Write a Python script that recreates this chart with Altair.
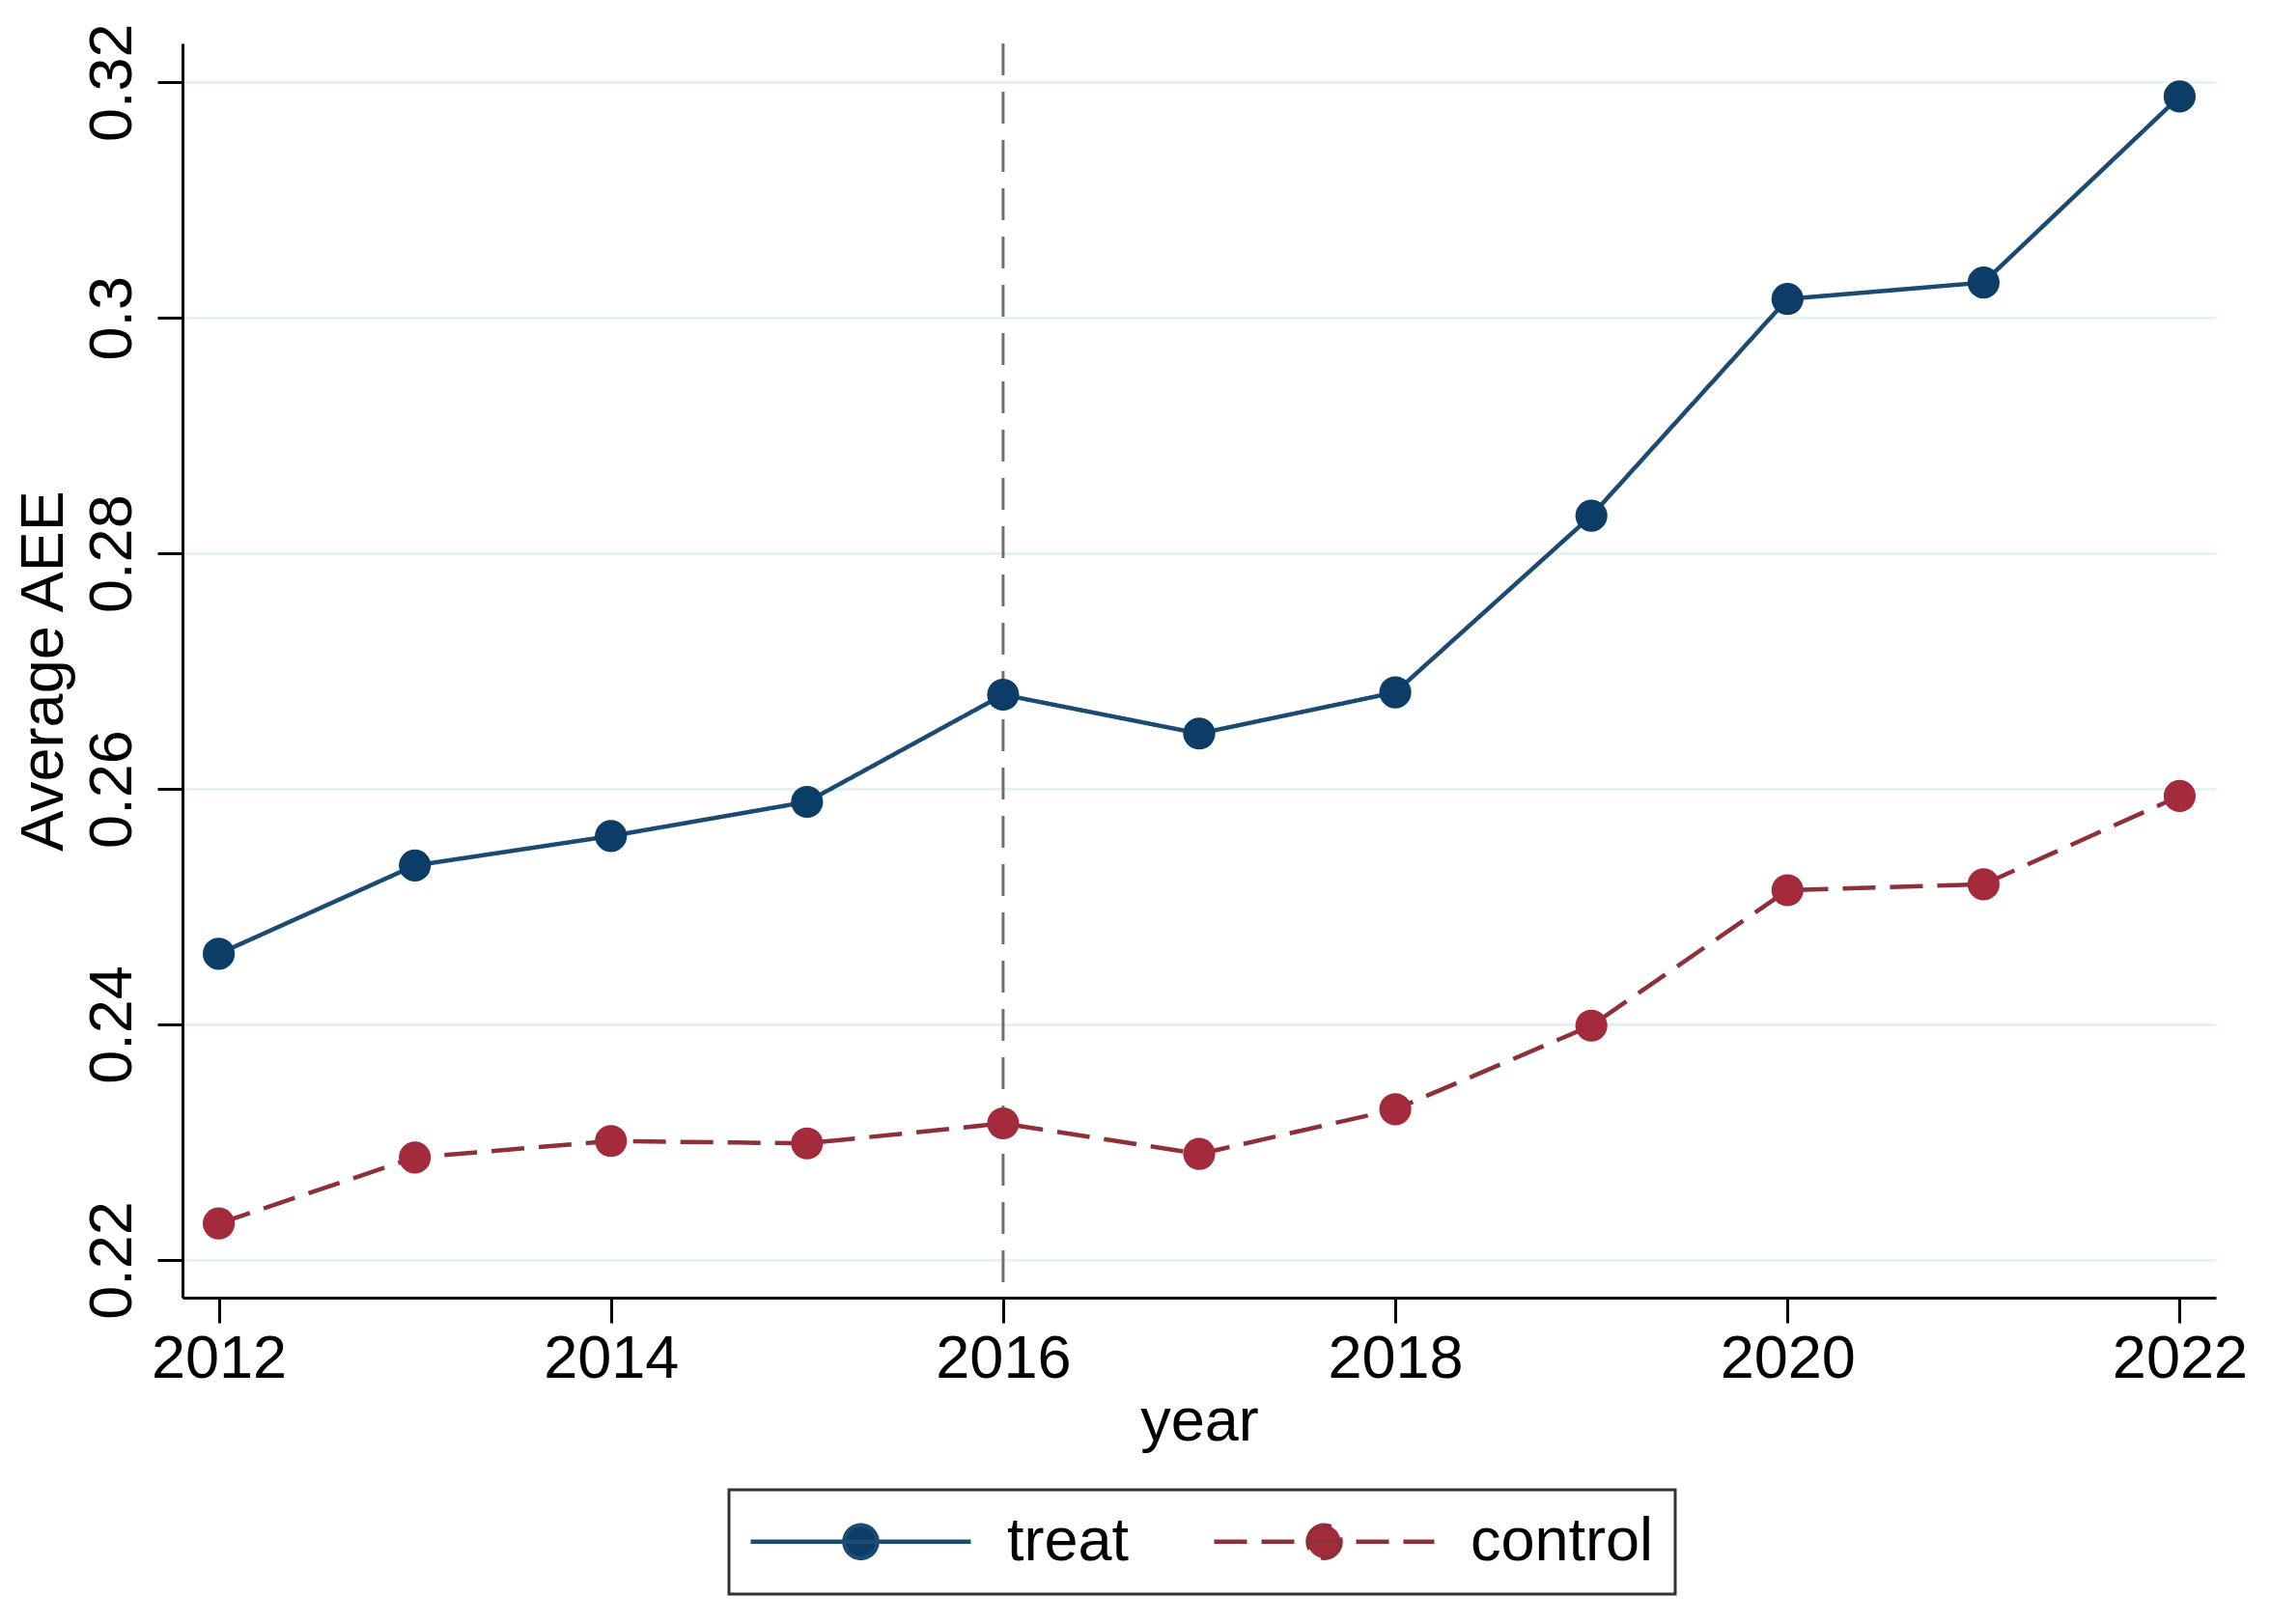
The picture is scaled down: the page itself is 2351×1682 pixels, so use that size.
import altair as alt
import pandas as pd

years = [2012, 2013, 2014, 2015, 2016, 2017, 2018, 2019, 2020, 2021, 2022]
treat = [0.2460, 0.2535, 0.2560, 0.2589, 0.2680, 0.2647, 0.2682, 0.2832, 0.3016, 0.3030, 0.3188]
control = [0.2231, 0.2287, 0.2301, 0.2299, 0.2316, 0.2290, 0.2328, 0.2399, 0.2514, 0.2519, 0.2594]
groups = ["treat", "control"]
event_year = [2016]
y_ticks = [0.22, 0.24, 0.26, 0.28, 0.30, 0.32]
x_ticks = [2012, 2014, 2016, 2018, 2020, 2022]

line_colors = ["#1b4a72", "#8f2f38"]
marker_colors = ["#0b3d66", "#a32b3b"]
dashes = [[1, 0], [34, 15]]

rows = []
for g, vals in zip(groups, [treat, control]):
    for yr, v in zip(years, vals):
        rows.append({"year": yr, "value": v, "group": g})
df = pd.DataFrame(rows)
ev = pd.DataFrame({"year": event_year})

FONT = "Liberation Sans"

xscale = alt.Scale(domain=[2011.815, 2022.185], nice=False, zero=False)
yscale = alt.Scale(domain=[0.2168, 0.3233], nice=False, zero=False)

xaxis = alt.Axis(values=x_ticks, format="d", title="year", grid=False,
                 labelFlush=False, labelOverlap=False, labelPadding=6,
                 titlePadding=2)
yaxis = alt.Axis(values=y_ticks, format="~g", title="Average AEE", grid=True,
                 gridColor="#e8f1f2", gridWidth=3, labelAngle=270,
                 labelAlign="center", labelBaseline="bottom", labelPadding=15,
                 titlePadding=8)

legend = alt.Legend(
    title=None, orient="none", legendX=566, legendY=1498, direction="horizontal",
    symbolType="M-5.7,0L5.7,0M-0.85,0A0.85,0.85,0,1,1,0.85,0A0.85,0.85,0,1,1,-0.85,0Z",
    symbolSize=1600, symbolStrokeWidth=4.5, symbolOffset=83, labelOffset=120,
    columnPadding=78, padding=22, strokeColor="#333333", labelLimit=0,
    labelFont=FONT, labelFontSize=63, labelColor="black", labelBaseline="middle",
    symbolOpacity=1,
)

lines = alt.Chart(df).mark_line(strokeWidth=4.5, opacity=1).encode(
    x=alt.X("year:Q", scale=xscale, axis=xaxis),
    y=alt.Y("value:Q", scale=yscale, axis=yaxis),
    stroke=alt.Stroke("group:N", scale=alt.Scale(domain=groups, range=line_colors), legend=legend),
    strokeDash=alt.StrokeDash("group:N", scale=alt.Scale(domain=groups, range=dashes), legend=legend),
    detail="group:N",
)

points = alt.Chart(df).mark_point(filled=True, size=1100, opacity=1, strokeWidth=0).encode(
    x=alt.X("year:Q", scale=xscale),
    y=alt.Y("value:Q", scale=yscale),
    fill=alt.Fill("group:N", scale=alt.Scale(domain=groups, range=marker_colors), legend=legend),
)

rule = alt.Chart(ev).mark_rule(color="#6f6f6f", strokeWidth=3, strokeDash=[33, 17]).encode(
    x=alt.X("year:Q", scale=xscale),
)

chart = alt.layer(rule, lines, points).properties(
    width=2106, height=1299,
    autosize=alt.AutoSizeParams(type="none"),
    padding={"left": 181, "top": 37, "right": 48, "bottom": 330},
    background="white",
).configure_view(stroke=None).configure_axis(
    domainColor="black", domainWidth=3, tickColor="black", tickWidth=3, tickSize=26,
    labelFont=FONT, labelFontSize=63, labelColor="black",
    titleFont=FONT, titleFontSize=63, titleFontWeight="normal", titleColor="black",
).configure_legend(strokeWidth=3)

chart.save("out.html", embed_options={"renderer": "svg", "actions": False})
